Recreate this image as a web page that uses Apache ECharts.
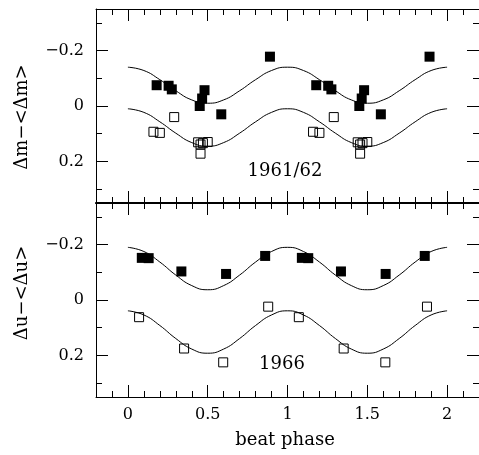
<!DOCTYPE html>
<html>
<head>
<meta charset="utf-8">
<script src="https://cdn.jsdelivr.net/npm/echarts@6/dist/echarts.min.js"></script>
<style>
html, body { margin: 0; padding: 0; background: #fff; }
#chart { width: 479px; height: 455px; }
</style>
</head>
<body>
<div id="chart"></div>
<script>
/*
 * beat phase plot, two panels (1961/62 and 1966)
 */

// tick values
var X_MAJOR = [0, 0.5, 1, 1.5, 2];
var X_MINOR = [-0.1, 0.1, 0.2, 0.3, 0.4, 0.6, 0.7, 0.8, 0.9, 1.1, 1.2, 1.3, 1.4, 1.6, 1.7, 1.8, 1.9, 2.1];
var Y_MAJOR = [-0.2, 0, 0.2];
var Y_MINOR = [-0.3, -0.1, 0.1, 0.3];

// 1961/62 : filled squares (upper), open squares (lower)
var m_fill_phase = [0.18, 0.255, 0.275, 0.45, 0.465, 0.48, 0.585, 0.89, 1.18, 1.255, 1.275, 1.45, 1.465, 1.48, 1.585, 1.89];
var m_fill_value = [-0.075, -0.073, -0.06, 0.0, -0.027, -0.057, 0.03, -0.178, -0.075, -0.073, -0.06, 0.0, -0.027, -0.057, 0.03, -0.178];
var m_open_phase = [0.16, 0.2, 0.29, 0.44, 0.455, 0.47, 0.5, 0.455, 1.16, 1.2, 1.29, 1.44, 1.455, 1.47, 1.5, 1.455];
var m_open_value = [0.093, 0.097, 0.04, 0.131, 0.139, 0.134, 0.13, 0.172, 0.093, 0.097, 0.04, 0.131, 0.139, 0.134, 0.13, 0.172];

// 1966 : filled squares (upper), open squares (lower)
var u_fill_phase = [0.087, 0.13, 0.335, 0.615, 0.86, 1.09, 1.13, 1.335, 1.615, 1.86];
var u_fill_value = [-0.152, -0.151, -0.103, -0.094, -0.159, -0.152, -0.151, -0.103, -0.094, -0.159];
var u_open_phase = [0.07, 0.352, 0.597, 0.879, 1.071, 1.352, 1.613, 1.874];
var u_open_value = [0.062, 0.175, 0.225, 0.024, 0.062, 0.175, 0.225, 0.024];

// fitted curves, read every 0.1 in phase
var curve_phase = [0, 0.1, 0.2, 0.3, 0.4, 0.5, 0.6, 0.7, 0.8, 0.9, 1, 1.1, 1.2, 1.3, 1.4, 1.5, 1.6, 1.7, 1.8, 1.9, 2];
var m_curve_up  = [-0.140, -0.128, -0.095, -0.055, -0.022, -0.010, -0.022, -0.055, -0.095, -0.128, -0.140, -0.128, -0.095, -0.055, -0.022, -0.010, -0.022, -0.055, -0.095, -0.128, -0.140];
var m_curve_low = [0.010, 0.023, 0.057, 0.098, 0.132, 0.145, 0.132, 0.098, 0.057, 0.023, 0.010, 0.023, 0.057, 0.098, 0.132, 0.145, 0.132, 0.098, 0.057, 0.023, 0.010];
var u_curve_up  = [-0.190, -0.175, -0.137, -0.090, -0.052, -0.037, -0.052, -0.090, -0.137, -0.175, -0.190, -0.175, -0.137, -0.090, -0.052, -0.037, -0.052, -0.090, -0.137, -0.175, -0.190];
var u_curve_low = [0.039, 0.054, 0.092, 0.139, 0.177, 0.192, 0.177, 0.139, 0.092, 0.054, 0.039, 0.054, 0.092, 0.139, 0.177, 0.192, 0.177, 0.139, 0.092, 0.054, 0.039];

var FONT = 'DejaVu Serif';

function pairs(xs, ys) {
	var out = [];
	for (var i = 0; i < xs.length; i++) {
		out.push([xs[i], ys[i]]);
	}
	return out;
}

function fmtNum(v) {
	return String(v).replace('-', '\u2212');
}

// one x axis: ticks given by list, len = tick length
function xAxisOf(grid, position, ticks, len, line, labels) {
	return {
		type: 'value', gridIndex: grid, position: position,
		min: -0.2, max: 2.2,
		axisLine: { show: line, onZero: false, lineStyle: { color: '#000', width: (grid == 0 && position == 'bottom') ? 2 : 1 } },
		axisTick: { show: true, inside: true, length: len, customValues: ticks, lineStyle: { color: '#000' } },
		axisLabel: { show: labels, customValues: X_MAJOR, margin: 10, color: '#000', fontFamily: FONT, fontSize: 16, formatter: fmtNum },
		splitLine: { show: false }
	};
}

function yAxisOf(grid, position, ticks, len, line, labels) {
	return {
		type: 'value', gridIndex: grid, position: position, inverse: true,
		min: -0.35, max: 0.35,
		axisLine: { show: line, onZero: false, lineStyle: { color: '#000' } },
		axisTick: { show: true, inside: true, length: len, customValues: ticks, lineStyle: { color: '#000' } },
		axisLabel: { show: labels, customValues: Y_MAJOR, margin: 12, color: '#000', fontFamily: FONT, fontSize: 16, formatter: fmtNum },
		splitLine: { show: false }
	};
}

var xAxes = [], yAxes = [];
for (var g = 0; g < 2; g++) {
	xAxes.push(xAxisOf(g, 'bottom', X_MAJOR, 12, true, g == 1));
	xAxes.push(xAxisOf(g, 'bottom', X_MINOR, 6, false, false));
	xAxes.push(xAxisOf(g, 'top', X_MAJOR, 12, true, false));
	xAxes.push(xAxisOf(g, 'top', X_MINOR, 6, false, false));
	yAxes.push(yAxisOf(g, 'left', Y_MAJOR, 12, true, true));
	yAxes.push(yAxisOf(g, 'left', Y_MINOR, 6, false, false));
	yAxes.push(yAxisOf(g, 'right', Y_MAJOR, 12, true, false));
	yAxes.push(yAxisOf(g, 'right', Y_MINOR, 6, false, false));
}

function filled(grid, xs, ys) {
	return {
		type: 'scatter', xAxisIndex: grid * 4, yAxisIndex: grid * 4,
		symbol: 'rect', symbolSize: 10, data: pairs(xs, ys),
		itemStyle: { color: '#000', opacity: 1 }, z: 3
	};
}

function open(grid, xs, ys) {
	return {
		type: 'scatter', xAxisIndex: grid * 4, yAxisIndex: grid * 4,
		symbol: 'rect', symbolSize: 9, data: pairs(xs, ys),
		itemStyle: { color: 'rgba(0,0,0,0)', borderColor: '#000', borderWidth: 1, opacity: 1 }, z: 3
	};
}

function curve(grid, ys) {
	return {
		type: 'line', xAxisIndex: grid * 4, yAxisIndex: grid * 4,
		data: pairs(curve_phase, ys), smooth: true, showSymbol: false,
		lineStyle: { color: '#000', width: 1 }, z: 2
	};
}

var chart = echarts.init(document.getElementById('chart'), null, { renderer: 'canvas' });
chart.setOption({
	animation: false,
	backgroundColor: '#fff',
	grid: [
		{ left: 96, top: 9, width: 387, height: 194 },
		{ left: 96, top: 203, width: 387, height: 194 }
	],
	xAxis: xAxes,
	yAxis: yAxes,
	series: [
		curve(0, m_curve_up), curve(0, m_curve_low),
		filled(0, m_fill_phase, m_fill_value), open(0, m_open_phase, m_open_value),
		curve(1, u_curve_up), curve(1, u_curve_low),
		filled(1, u_fill_phase, u_fill_value), open(1, u_open_phase, u_open_value)
	],
	graphic: [
		{ type: 'text', x: 22, y: 117, rotation: Math.PI / 2,
		  style: { text: '\u0394m\u2212<\u0394m>', font: '18px "DejaVu Serif"', fill: '#000', align: 'center', verticalAlign: 'middle' } },
		{ type: 'text', x: 22, y: 293, rotation: Math.PI / 2,
		  style: { text: '\u0394u\u2212<\u0394u>', font: '18px "DejaVu Serif"', fill: '#000', align: 'center', verticalAlign: 'middle' } },
		{ type: 'text', x: 285, y: 171,
		  style: { text: '1961/62', font: '18px "DejaVu Serif"', fill: '#000', align: 'center', verticalAlign: 'middle' } },
		{ type: 'text', x: 282, y: 364,
		  style: { text: '1966', font: '18px "DejaVu Serif"', fill: '#000', align: 'center', verticalAlign: 'middle' } },
		{ type: 'text', x: 285, y: 440,
		  style: { text: 'beat phase', font: '18px "DejaVu Serif"', fill: '#000', align: 'center', verticalAlign: 'middle' } }
	]
});
</script>
</body>
</html>
